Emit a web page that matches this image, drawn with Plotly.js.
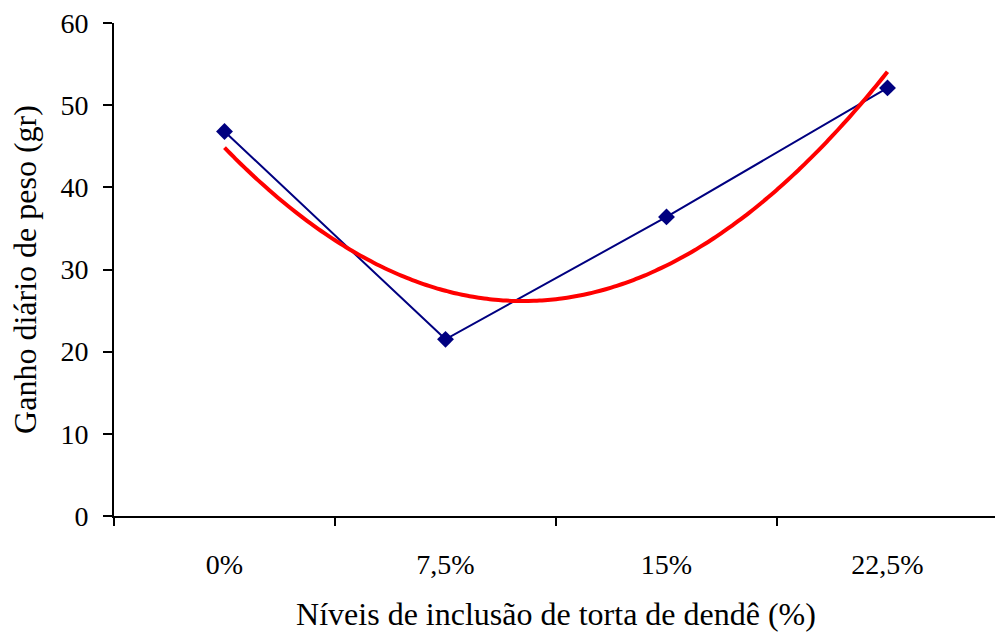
<!DOCTYPE html>
<html>
<head>
<meta charset="utf-8">
<script src="https://cdn.plot.ly/plotly-3.0.1.min.js"></script>
<style>
html,body{margin:0;padding:0;overflow:hidden;background:#fff;}
#chart{width:998px;height:634px;}
</style>
</head>
<body>
<div id="chart"></div>
<script>
// Data
const categories = ['0%', '7,5%', '15%', '22,5%'];
const ganho = [46.8, 21.5, 36.4, 52.1];
const yTicks = [0, 10, 20, 30, 40, 50, 60];

// Polynomial (order 2) trendline computed by least squares from the data
function quadFit(xs, ys) {
  const n = xs.length;
  let S = [0,0,0,0,0], T = [0,0,0];
  for (let i = 0; i < n; i++) {
    let p = 1;
    for (let k = 0; k < 5; k++) { S[k] += p; p *= xs[i]; }
    p = 1;
    for (let k = 0; k < 3; k++) { T[k] += p * ys[i]; p *= xs[i]; }
  }
  const A = [[S[0],S[1],S[2],T[0]],[S[1],S[2],S[3],T[1]],[S[2],S[3],S[4],T[2]]];
  for (let i = 0; i < 3; i++) {
    for (let j = i + 1; j < 3; j++) {
      const f = A[j][i] / A[i][i];
      for (let k = i; k < 4; k++) A[j][k] -= f * A[i][k];
    }
  }
  const c = [0,0,0];
  for (let i = 2; i >= 0; i--) {
    let s = A[i][3];
    for (let k = i + 1; k < 3; k++) s -= A[i][k] * c[k];
    c[i] = s / A[i][i];
  }
  return c;
}
const idx = categories.map((_, i) => i);
const coef = quadFit(idx, ganho);
const trendX = [], trendY = [];
for (let i = 0; i <= 120; i++) {
  const x = i * (idx.length - 1) / 120;
  trendX.push(x);
  trendY.push(coef[0] + coef[1] * x + coef[2] * x * x);
}

const tickFont = {family: 'Liberation Serif', color: '#000', size: 28};
const titleFont = {family: 'Liberation Serif', color: '#000', size: 32};

const traces = [
  {
    x: categories, y: ganho, type: 'scatter', mode: 'lines+markers',
    line: {color: '#000080', width: 2},
    marker: {symbol: 'diamond', size: 13, color: '#000080'},
    xaxis: 'x', yaxis: 'y', hoverinfo: 'skip'
  },
  {
    x: trendX, y: trendY, type: 'scatter', mode: 'lines',
    line: {color: '#FF0000', width: 4, shape: 'spline'},
    xaxis: 'x2', yaxis: 'y', hoverinfo: 'skip'
  }
];

const layout = {
  width: 998, height: 634,
  margin: {l: 114, r: 0, t: 23, b: 118},
  paper_bgcolor: '#fff', plot_bgcolor: '#fff',
  showlegend: false,
  font: tickFont,
  xaxis: {
    type: 'category',
    range: [-0.5, 3.5],
    tickson: 'boundaries',
    ticks: 'outside', ticklen: 8, tickwidth: 2, tickcolor: '#000',
    showline: true, linecolor: '#000', linewidth: 2,
    showgrid: false, zeroline: false,
    tickfont: tickFont,
    ticklabelstandoff: 22,
    title: {text: 'Níveis de inclusão de torta de dendê (%)', font: titleFont, standoff: 24}
  },
  xaxis2: {
    type: 'linear', range: [-0.5, 3.5], overlaying: 'x', visible: false,
    showgrid: false, zeroline: false
  },
  yaxis: {
    range: [0, 60], tickvals: yTicks,
    ticks: 'outside', ticklen: 9, tickwidth: 2, tickcolor: '#000',
    showline: true, linecolor: '#000', linewidth: 2,
    showgrid: false, zeroline: false,
    tickfont: tickFont,
    ticklabelstandoff: 9,
    title: {text: 'Ganho diário de peso (gr)', font: titleFont, standoff: 14}
  }
};

Plotly.newPlot('chart', traces, layout, {displayModeBar: false, staticPlot: true});
</script>
</body>
</html>
